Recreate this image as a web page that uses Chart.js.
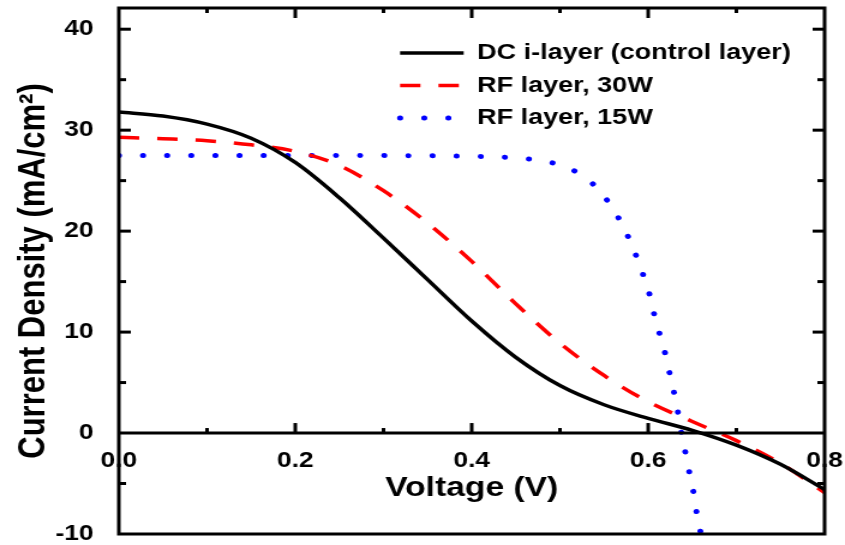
<!DOCTYPE html>
<html>
<head>
<meta charset="utf-8">
<title>Curva J-V</title>
<script src="https://cdn.jsdelivr.net/npm/chart.js@4.4.1/dist/chart.umd.min.js"></script>
<style>
  body { margin: 0; background: #fff; }
</style>
</head>
<body>
<!-- el lienzo se dibuja a 704 px y se estira a 845 px de ancho -->
<canvas id="myChart" width="704" height="545" style="width:845px;height:545px"></canvas>
<script>
/* Datos de las curvas J-V (voltaje en V, densidad en mA/cm2) */

const dc_volt = [0, 0.05, 0.1, 0.15, 0.2, 0.25, 0.3, 0.35, 0.4, 0.45, 0.5, 0.55, 0.6, 0.65, 0.7, 0.75, 0.8];
const dc_dens = [31.8, 31.4, 30.6, 29.2, 26.8, 23.3, 19.3, 15.2, 11.1, 7.5, 4.7, 2.8, 1.45, 0.27, -1.2, -3.1, -5.6];

const rf30_volt = [0, 0.05, 0.1, 0.15, 0.2, 0.25, 0.3, 0.35, 0.4, 0.45, 0.5, 0.55, 0.6, 0.65, 0.7, 0.75, 0.8];
const rf30_dens = [29.3, 29.15, 28.95, 28.55, 27.9, 26.5, 24.0, 20.8, 17.0, 12.8, 8.9, 5.7, 3.1, 1.15, -0.75, -3.0, -5.9];

const rf15_volt = [0, 0.2, 0.405, 0.458, 0.484, 0.511, 0.537, 0.558, 0.572, 0.583, 0.593, 0.601, 0.607, 0.614, 0.621, 0.626, 0.632, 0.636, 0.641, 0.646, 0.651, 0.655, 0.66];
const rf15_dens = [27.5, 27.5, 27.4, 27.2, 26.9, 26.2, 24.7, 22.5, 20.4, 18.3, 16.0, 13.9, 11.7, 9.5, 7.3, 5.2, 3.0, 0.8, -1.4, -3.6, -5.7, -7.9, -10.1];

const series_labels = ['DC i-layer (control layer)', 'RF layer, 30W', 'RF layer, 15W'];

const x_ticks = [0, 0.2, 0.4, 0.6, 0.8];
const y_ticks = [-10, 0, 10, 20, 30, 40];

/* ============================== */

const ctx = document.getElementById('myChart');
const FUENTE = '"Liberation Sans", Arial, sans-serif';

function to_points(xs, ys) {
  return xs.map((v, i) => ({ x: v, y: ys[i] }));
}

function linea(c, x1, y1, x2, y2) {
  c.beginPath();
  c.moveTo(x1, y1);
  c.lineTo(x2, y2);
  c.stroke();
}

/* Marco, eje en cero y marcas hacia adentro; la leyenda va arriba a la derecha */
const marco_plugin = {
  id: 'marco',
  afterLayout(chart) {
    let leyenda = chart.legend;
    let dx = 323.3 - leyenda.left;
    let dy = 31.75 - leyenda.top;
    leyenda.left += dx;
    leyenda.right += dx;
    leyenda.top += dy;
    leyenda.bottom += dy;
  },
  afterDatasetsDraw(chart) {
    const c = chart.ctx;
    const a = chart.chartArea;
    const sx = chart.scales.x;
    const sy = chart.scales.y;
    const y0 = sy.getPixelForValue(0);

    c.save();
    c.strokeStyle = '#000';
    c.lineWidth = 3;
    c.lineCap = 'butt';
    c.strokeRect(a.left, a.top, a.right - a.left, a.bottom - a.top);
    linea(c, a.left, y0, a.right, y0);

    // marcas del eje x (arriba y sobre la linea de cero)
    for (let i = 1; i < 8; i++) {
      let px = sx.getPixelForValue(i / 10);
      let largo = i % 2 === 0 ? 10 : 5;
      linea(c, px, a.top, px, a.top + largo);
      linea(c, px, y0, px, y0 - largo);
    }

    // marcas del eje y (izquierda y derecha)
    for (let v = -5; v <= 40; v += 5) {
      if (v === 0) continue;
      let py = sy.getPixelForValue(v);
      let largo = v % 10 === 0 ? 10 : 6;
      linea(c, a.left, py, a.left + largo, py);
      linea(c, a.right, py, a.right - largo, py);
    }
    c.restore();
  }
};

function start_chart() {
  const config = {
    type: 'line',
    data: {
      datasets: [{
        label: series_labels[0],
        data: to_points(dc_volt, dc_dens),
        borderColor: '#000000',
        borderWidth: 3.5,
        pointRadius: 0,
        cubicInterpolationMode: 'monotone',
        fill: false
      }, {
        label: series_labels[1],
        data: to_points(rf30_volt, rf30_dens),
        borderColor: '#ff0000',
        borderWidth: 3.5,
        borderDash: [17, 15],
        pointRadius: 0,
        cubicInterpolationMode: 'monotone',
        fill: false
      }, {
        label: series_labels[2],
        data: to_points(rf15_volt, rf15_dens),
        borderColor: '#0000ff',
        borderWidth: 5,
        borderDash: [0.1, 20],
        borderCapStyle: 'round',
        pointRadius: 0,
        cubicInterpolationMode: 'monotone',
        fill: false
      }]
    },
    options: {
      responsive: false,
      animation: false,
      events: [],
      layout: {
        padding: { top: 8, right: 17, bottom: 11, left: 0 }
      },
      scales: {
        x: {
          type: 'linear',
          position: { y: 0 },
          min: 0,
          max: 0.8,
          afterBuildTicks: eje => { eje.ticks = x_ticks.map(v => ({ value: v })); },
          afterFit: eje => { eje.paddingLeft = 0; eje.paddingRight = 0; },
          grid: { display: false },
          border: { display: false },
          ticks: {
            padding: 9,
            color: '#000',
            maxRotation: 0,
            autoSkip: false,
            font: { family: FUENTE, size: 22, weight: 'bold', lineHeight: 1 },
            callback: v => v.toFixed(1)
          },
          title: {
            display: true,
            text: 'Voltage (V)',
            color: '#000',
            font: { family: FUENTE, size: 28, weight: 'bold' },
            padding: { top: -10, bottom: 0 }
          }
        },
        y: {
          type: 'linear',
          position: 'left',
          min: -10,
          max: 42.1,
          afterBuildTicks: eje => { eje.ticks = y_ticks.map(v => ({ value: v })); },
          afterFit: eje => { eje.width = 99; eje.paddingTop = 0; eje.paddingBottom = 0; },
          grid: { display: false },
          border: { display: false },
          ticks: {
            padding: 13,
            color: '#000',
            font: { family: FUENTE, size: 22, weight: 'bold', lineHeight: 1 },
            callback: v => String(v)
          },
          title: {
            display: true,
            text: 'Current Density (mA/cm²)',
            color: '#000',
            font: { family: FUENTE, size: 31, weight: 'bold' },
            padding: { top: 9.5, bottom: 0 }
          }
        }
      },
      plugins: {
        tooltip: { enabled: false },
        legend: {
          position: 'chartArea',
          align: 'start',
          labels: {
            usePointStyle: true,
            pointStyleWidth: 53,
            padding: 10,
            color: '#000',
            font: { family: FUENTE, size: 22.5, weight: 'bold' },
            generateLabels: chart => chart.data.datasets.map((ds, i) => ({
              text: ds.label,
              strokeStyle: ds.borderColor,
              fillStyle: 'rgba(0,0,0,0)',
              fontColor: '#000',
              lineWidth: ds.borderWidth,
              lineDash: ds.borderDash || [],
              lineCap: ds.borderCapStyle || 'butt',
              pointStyle: 'line',
              hidden: false,
              datasetIndex: i
            }))
          }
        }
      }
    },
    plugins: [marco_plugin]
  };
  new Chart(ctx, config);
}

window.addEventListener('load', start_chart);
</script>
</body>
</html>
